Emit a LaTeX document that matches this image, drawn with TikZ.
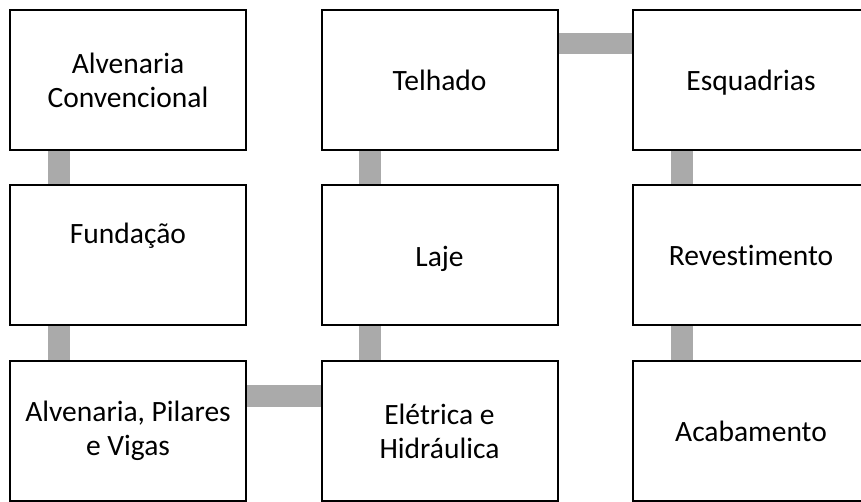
\documentclass[tikz,border=0pt]{standalone}
\usepackage{fontspec}
\setmainfont{Carlito}[RawFeature={-liga;-dlig}]
\usetikzlibrary{backgrounds}
\definecolor{conngray}{HTML}{AAAAAA}
\tikzset{
  stagebox/.style={draw=black, line width=2pt, fill=white, rectangle,
    minimum width=236pt, minimum height=140pt, inner sep=0pt,
    align=center, font=\fontsize{29.5}{34}\selectfont},
  conn/.style={draw=conngray, line width=21.5pt}
}
\begin{document}
\begin{tikzpicture}[x=1pt,y=-1pt]
\useasboundingbox (0,0) rectangle (861,501);
\begin{scope}
\clip (0,0) rectangle (861,501);
\node[stagebox] (alvc) at (128,80) {Alvenaria\\Convencional};
\node[stagebox] (telh) at (439.5,80) {Telhado};
\node[stagebox] (esq) at (751,80) {\raisebox{0pt}[20pt][0pt]{Esquadrias}};
\node[stagebox] (fund) at (128,255) {Fundação\\[10pt]\mbox{}};
\node[stagebox] (laje) at (439.5,255) {\raisebox{0pt}[22pt][0pt]{Laje}};
\node[stagebox] (rev) at (751,255) {Revestimento};
\node[stagebox] (alvp) at (128,431) {Alvenaria, Pilares\\e Vigas};
\node[stagebox] (elet) at (439.5,431) {Elétrica e\\Hidráulica};
\node[stagebox] (acab) at (751,431) {Acabamento};
\begin{scope}[on background layer]
\draw[conn] ([xshift=-69pt]alvc.south) -- ([xshift=-69pt]fund.north);
\draw[conn] ([xshift=-69pt]fund.south) -- ([xshift=-69pt]alvp.north);
\draw[conn] ([yshift=35pt]alvp.east) -- ([yshift=35pt]elet.west);
\draw[conn] ([xshift=-69.5pt]elet.north) -- ([xshift=-69.5pt]laje.south);
\draw[conn] ([xshift=-69.5pt]laje.north) -- ([xshift=-69.5pt]telh.south);
\draw[conn] ([yshift=36.5pt]telh.east) -- ([yshift=36.5pt]esq.west);
\draw[conn] ([xshift=-69pt]esq.south) -- ([xshift=-69pt]rev.north);
\draw[conn] ([xshift=-69pt]rev.south) -- ([xshift=-69pt]acab.north);
\end{scope}
\end{scope}
\end{tikzpicture}
\end{document}
